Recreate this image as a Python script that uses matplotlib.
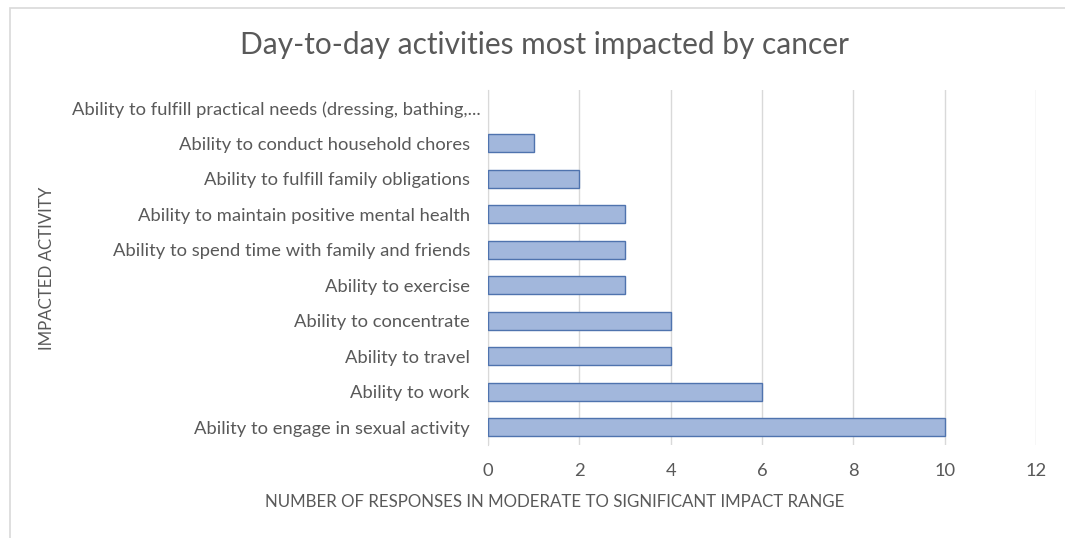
import matplotlib
matplotlib.use("Agg")
import matplotlib.pyplot as plt
from matplotlib.patches import Rectangle
from matplotlib.transforms import ScaledTranslation

categories = [
    "Ability to fulfill practical needs (dressing, bathing,...",
    "Ability to conduct household chores",
    "Ability to fulfill family obligations",
    "Ability to maintain positive mental health",
    "Ability to spend time with family and friends",
    "Ability to exercise",
    "Ability to concentrate",
    "Ability to travel",
    "Ability to work",
    "Ability to engage in sexual activity",
]
values = [0, 1, 2, 3, 3, 3, 4, 4, 6, 10]
xticks = [0, 2, 4, 6, 8, 10, 12]

title = "Day-to-day activities most impacted by cancer"
xlabel = "NUMBER OF RESPONSES IN MODERATE TO SIGNIFICANT IMPACT RANGE"
ylabel = "IMPACTED ACTIVITY"

plt.rcParams['font.family'] = ['Lato', 'DejaVu Sans']
txt = "#595959"

W, H = 1065, 538
fig = plt.figure(figsize=(W / 100, H / 100), dpi=100)
fig.patches.append(Rectangle((10 / W, -0.1), 1.2, 1 - 8 / H + 0.1, transform=fig.transFigure,
                             facecolor="white", edgecolor="#D9D9D9", linewidth=1.2, zorder=-5))

ax = fig.add_axes([488 / W, 1 - 445 / H, 548 / W, 355 / H])
ax.set_facecolor("none")
ypos = list(range(len(categories)))
edges = ["#4F73AE" if v > 0 else "none" for v in values]
ax.barh(ypos, values, height=0.5, color="#A2B7DC", edgecolor=edges, linewidth=1.0, zorder=3)
ax.set_ylim(len(categories) - 0.5, -0.5)
ax.set_xlim(0, 12)
ax.set_xticks(xticks)
ax.set_xticklabels([str(t) for t in xticks])
ax.set_yticks(ypos)
ax.set_yticklabels(categories)
ax.tick_params(axis='both', length=0, colors=txt, labelsize=13.2)
ax.tick_params(axis='x', pad=13)
ax.tick_params(axis='y', pad=13)
ax.grid(axis='x', color="#D9D9D9", linewidth=1.0, zorder=0)
for s in ["top", "right", "bottom"]:
    ax.spines[s].set_visible(False)
ax.spines["left"].set_color("#D9D9D9")

# the truncated first label sits closer to the axis in the reference
lab0 = ax.get_yticklabels()[0]
lab0.set_transform(lab0.get_transform() + ScaledTranslation(11 / 100, 0, fig.dpi_scale_trans))

fig.text((237 + 851) / 2 / W, 1 - 45 / H, title, ha="center", va="center", fontsize=21.5, color=txt)
fig.text(555 / W, 1 - 502 / H, xlabel, ha="center", va="center", fontsize=12.2, color=txt)
fig.text(47 / W, 1 - 268 / H, ylabel, ha="center", va="center", rotation=90, fontsize=12.2, color=txt)

fig.savefig("out.png", dpi=100)
